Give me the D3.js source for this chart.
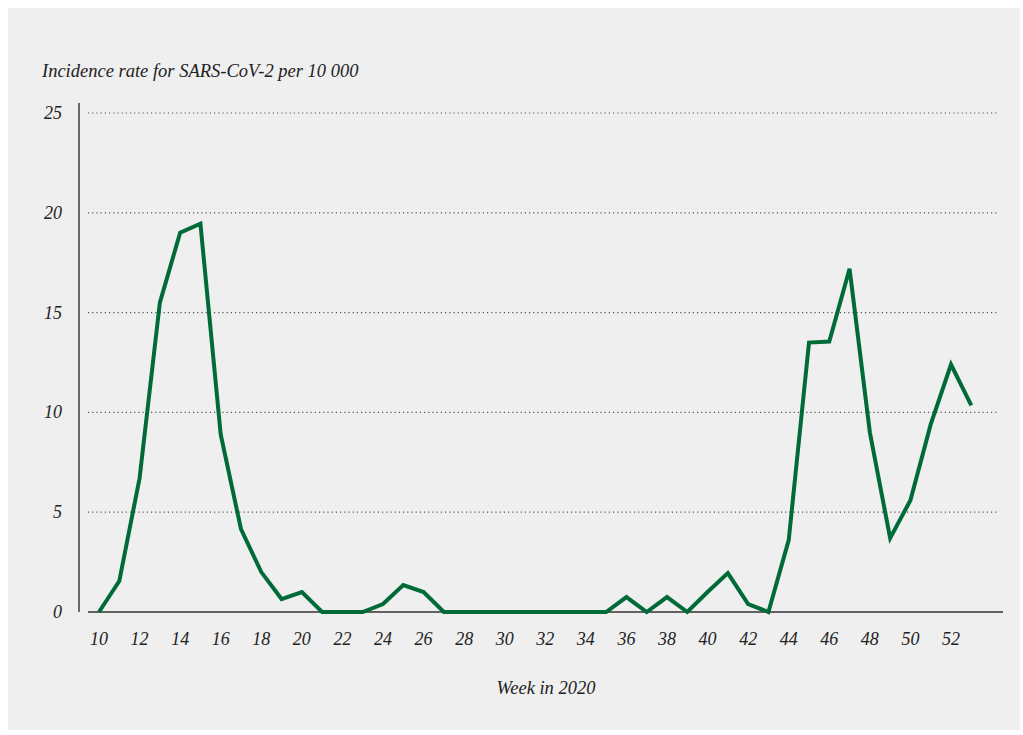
<!DOCTYPE html>
<html>
<head>
<meta charset="utf-8">
<script src="https://cdn.jsdelivr.net/npm/d3@7"></script>
<style>
  body { margin: 0; background: #fff; }
  svg text { font-family: "Liberation Serif", "DejaVu Serif", serif; font-style: italic; fill: #222; }
</style>
</head>
<body>
<script>
// week numbers and incidence per 10 000
const weeks = d3.range(10, 54);
const incidence = [
  0, 1.55, 6.7, 15.5, 19.0, 19.45, 8.9, 4.15, 2.0, 0.65,
  1.0, 0, 0, 0, 0.4, 1.35, 1.0, 0, 0, 0,
  0, 0, 0, 0, 0, 0, 0.75, 0, 0.75, 0,
  1.0, 1.95, 0.4, 0, 3.6, 13.5, 13.55, 17.2, 9.0, 3.7,
  5.6, 9.4, 12.4, 10.35
];
const xTicks = d3.range(10, 53, 2);
const yTicks = [0, 5, 10, 15, 20, 25];

const W = 1023, H = 735;
const svg = d3.select("body").append("svg").attr("width", W).attr("height", H);

// gray panel
svg.append("rect").attr("x", 8).attr("y", 8).attr("width", 1012).attr("height", 722).attr("fill", "#efefef");

const x = d3.scaleLinear().domain([10, 52]).range([99, 951]);
const y = d3.scaleLinear().domain([0, 25]).range([612, 113]);

// title
svg.append("text").attr("x", 42).attr("y", 77).style("font-size", "18.5px")
  .text("Incidence rate for SARS-CoV-2 per 10 000");

// y axis line
svg.append("line").attr("x1", 79).attr("x2", 79).attr("y1", 103).attr("y2", 612)
  .attr("stroke", "#222").attr("stroke-width", 1.3);

// grid lines
svg.append("g").selectAll("line").data(yTicks.filter(d => d > 0)).join("line")
  .attr("x1", 88).attr("x2", 999)
  .attr("y1", d => y(d)).attr("y2", d => y(d))
  .attr("stroke", "#555").attr("stroke-width", 1.2).attr("stroke-dasharray", "1.2,3");

// baseline
svg.append("line").attr("x1", 88).attr("x2", 1003).attr("y1", y(0)).attr("y2", y(0))
  .attr("stroke", "#333").attr("stroke-width", 1.3);

// y tick labels
svg.append("g").selectAll("text").data(yTicks).join("text")
  .attr("x", 62).attr("y", d => y(d) + 6)
  .attr("text-anchor", "end").style("font-size", "18px")
  .text(d => d);

// x tick labels
svg.append("g").selectAll("text").data(xTicks).join("text")
  .attr("x", d => x(d)).attr("y", 645)
  .attr("text-anchor", "middle").style("font-size", "18px")
  .text(d => d);

// x title
svg.append("text").attr("x", 546).attr("y", 694).attr("text-anchor", "middle")
  .style("font-size", "18.5px").text("Week in 2020");

// line
const line = d3.line().x((d, i) => x(weeks[i])).y(d => y(d));
svg.append("path").datum(incidence)
  .attr("d", line)
  .attr("fill", "none")
  .attr("stroke", "#006b38")
  .attr("stroke-width", 4)
  .attr("stroke-linejoin", "miter");
</script>
</body>
</html>
